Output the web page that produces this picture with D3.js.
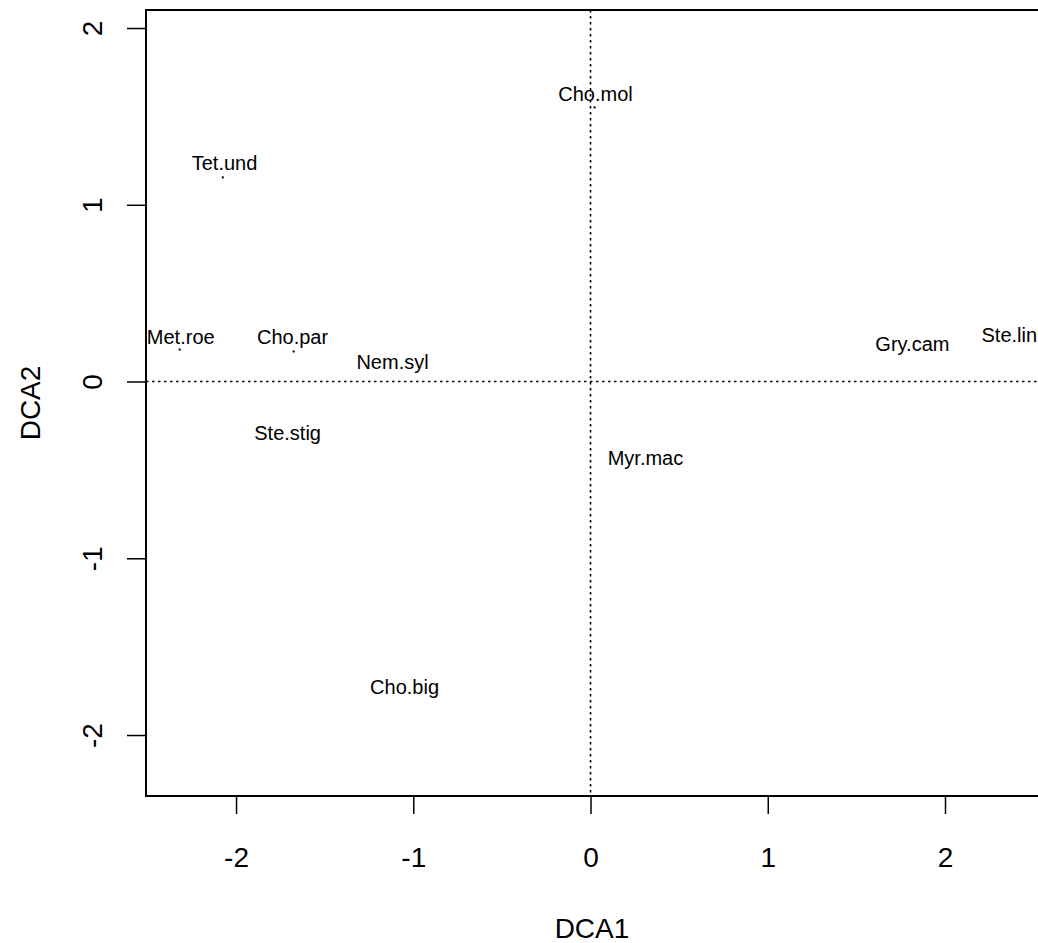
<!DOCTYPE html>
<html>
<head>
<meta charset="utf-8">
<script src="https://cdn.jsdelivr.net/npm/d3@7"></script>
<style>
  body { margin: 0; background: #fff; }
  text { font-family: "Liberation Sans", Arial, sans-serif; fill: #000; }
</style>
</head>
<body>
<script>
"use strict";

// species label positions (DCA1, DCA2)
var species = ["Tet.und", "Met.roe", "Cho.par", "Nem.syl", "Ste.stig",
               "Cho.mol", "Gry.cam", "Ste.lin", "Myr.mac", "Cho.big"];
var labelX = [-2.065, -2.312, -1.681, -1.117, -1.709, 0.028, 1.816, 2.363, 0.310, -1.049];
var labelY = [1.238, 0.255, 0.255, 0.113, -0.289, 1.630, 0.215, 0.266, -0.430, -1.726];

// small point markers that show from under the labels
var dotX = [-2.075, -2.318, -1.675, 0.023];
var dotY = [1.155, 0.181, 0.170, 1.551];

var xTicks = [-2, -1, 0, 1, 2];
var yTicks = [-2, -1, 0, 1, 2];
var xLim = [-2.508, 2.536];
var yLim = [-2.345, 2.102];

function draw_ordination() {
    var width = 1038;
    var height = 943;
    var left = 146, right = 1040, top = 10, bottom = 796;

    var svg = d3.select("body")
        .append("svg")
        .attr("width", width)
        .attr("height", height);

    var x = d3.scaleLinear().domain(xLim).range([left, right]);
    var y = d3.scaleLinear().domain(yLim).range([bottom, top]);
    // R prints a plain hyphen, not the unicode minus
    var fmt = function(d) { return String(d); };

    // dotted zero lines
    svg.append("line")
        .attr("x1", left).attr("x2", right)
        .attr("y1", y(0)).attr("y2", y(0))
        .attr("stroke", "#000").attr("stroke-width", 1.6)
        .attr("stroke-dasharray", "2.5,3.5");
    svg.append("line")
        .attr("x1", x(0)).attr("x2", x(0))
        .attr("y1", top).attr("y2", bottom)
        .attr("stroke", "#000").attr("stroke-width", 1.6)
        .attr("stroke-dasharray", "2.5,3.5");

    // box
    svg.append("rect")
        .attr("x", left).attr("y", top)
        .attr("width", right - left).attr("height", bottom - top)
        .attr("fill", "none").attr("stroke", "#000").attr("stroke-width", 2);

    // axes
    var gx = svg.append("g")
        .attr("transform", "translate(0," + bottom + ")")
        .call(d3.axisBottom(x).tickValues(xTicks).tickSize(18).tickPadding(0)
              .tickFormat(fmt));
    gx.select(".domain").remove();
    gx.selectAll(".tick line").attr("stroke-width", 1.5);
    gx.selectAll(".tick text")
        .attr("y", 71).attr("dy", null)
        .style("font-size", "28px")
        .style("font-family", "Liberation Sans, Arial, sans-serif");

    var gy = svg.append("g")
        .attr("transform", "translate(" + left + ",0)")
        .call(d3.axisLeft(y).tickValues(yTicks).tickSize(19).tickPadding(0)
              .tickFormat(fmt));
    gy.select(".domain").remove();
    gy.selectAll(".tick line").attr("stroke-width", 1.5);
    gy.selectAll(".tick text")
        .attr("x", null).attr("dy", null)
        .attr("text-anchor", "middle")
        .attr("transform", "translate(-44,0)rotate(-90)")
        .style("font-size", "28px")
        .style("font-family", "Liberation Sans, Arial, sans-serif");

    // axis titles
    svg.append("text")
        .attr("x", (left + right) / 2 - 1).attr("y", 938)
        .attr("text-anchor", "middle")
        .style("font-size", "28px")
        .text("DCA1");
    svg.append("text")
        .attr("transform", "translate(40," + (top + bottom) / 2 + ")rotate(-90)")
        .attr("text-anchor", "middle")
        .style("font-size", "28px")
        .text("DCA2");

    // points
    svg.selectAll("rect.pt")
        .data(d3.range(dotX.length))
        .enter()
        .append("rect")
        .attr("class", "pt")
        .attr("x", function(i) { return x(dotX[i]) - 1; })
        .attr("y", function(i) { return y(dotY[i]) - 1; })
        .attr("width", 2).attr("height", 2)
        .attr("fill", "#000");

    // species labels
    svg.selectAll("text.sp")
        .data(d3.range(species.length))
        .enter()
        .append("text")
        .attr("class", "sp")
        .attr("x", function(i) { return x(labelX[i]); })
        .attr("y", function(i) { return y(labelY[i]); })
        .attr("dy", "0.36em")
        .attr("text-anchor", "middle")
        .style("font-size", "20px")
        .text(function(i) { return species[i]; });
}

draw_ordination();
</script>
</body>
</html>
